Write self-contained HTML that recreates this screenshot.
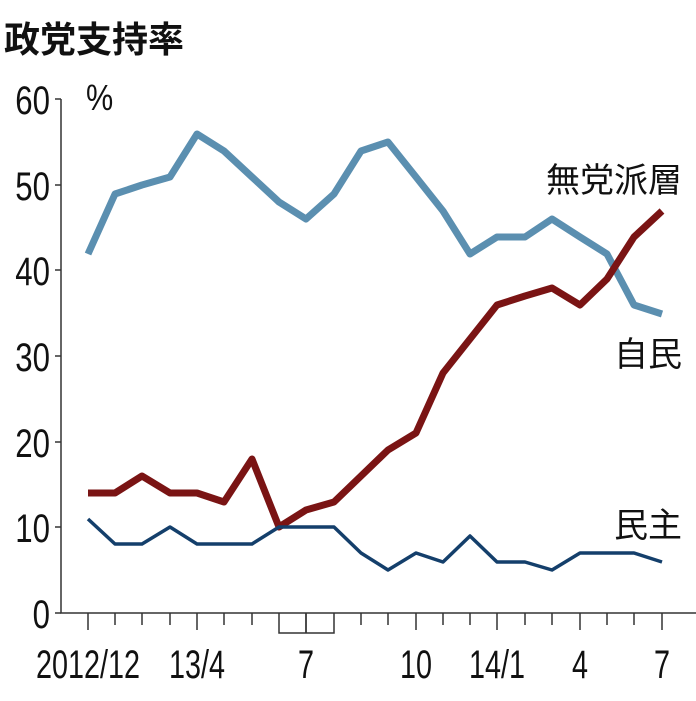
<!DOCTYPE html>
<html><head><meta charset="utf-8"><style>
body{margin:0;background:#fff;}
svg text{font-family:"Liberation Sans","Noto Sans CJK JP",sans-serif;fill:#111;}
</style></head><body>
<svg width="696" height="696" viewBox="0 0 696 696">
<text x="4" y="52" font-size="36" font-weight="bold">政党支持率</text>
<g font-size="40" text-anchor="end">
<text x="50" y="628" transform="scale(0.78,1)" transform-origin="50 0">0</text>
<text x="50" y="542" transform="scale(0.78,1)" transform-origin="50 0">10</text>
<text x="50" y="457" transform="scale(0.78,1)" transform-origin="50 0">20</text>
<text x="50" y="371" transform="scale(0.78,1)" transform-origin="50 0">30</text>
<text x="50" y="285" transform="scale(0.78,1)" transform-origin="50 0">40</text>
<text x="50" y="200" transform="scale(0.78,1)" transform-origin="50 0">50</text>
<text x="50" y="114" transform="scale(0.78,1)" transform-origin="50 0">60</text>
</g>
<text x="86" y="110" font-size="36" transform="scale(0.85,1)" transform-origin="86 0">%</text>
<g stroke="#333" stroke-width="1.5" fill="none">
<path d="M61 99V613H696"/>
<path d="M55 613H61M55 527H61M55 442H61M55 356H61M55 270H61M55 185H61M55 99H61"/>
<path d="M88 613v17M115 613v12M142 613v12M170 613v12M197 613v17M224 613v12M252 613v12M306 613v20M361 613v12M388 613v12M416 613v17M443 613v12M470 613v12M497 613v17M525 613v12M552 613v12M580 613v17M607 613v12M634 613v12M662 613v17"/>
<path d="M279 613V633H334V613M306 613V633"/>
</g>
<g font-size="40" text-anchor="middle">
<text x="88" y="678" transform="scale(0.72,1)" transform-origin="88 0">2012/12</text>
<text x="197" y="678" transform="scale(0.72,1)" transform-origin="197 0">13/4</text>
<text x="306" y="678" transform="scale(0.72,1)" transform-origin="306 0">7</text>
<text x="416" y="678" transform="scale(0.72,1)" transform-origin="416 0">10</text>
<text x="497" y="678" transform="scale(0.72,1)" transform-origin="497 0">14/1</text>
<text x="580" y="678" transform="scale(0.72,1)" transform-origin="580 0">4</text>
<text x="662" y="678" transform="scale(0.72,1)" transform-origin="662 0">7</text>
</g>
<g fill="none" stroke-linejoin="round">
<polyline stroke="#5b8fb0" stroke-width="7" points="88,254 115,194 142,185 170,177 197,134 224,151 252,177 279,202 306,219 334,194 361,151 388,142 416,177 443,211 470,254 497,237 525,237 552,219 580,237 607,254 634,305 662,314"/>
<polyline stroke="#7a1414" stroke-width="7" points="88,493 115,493 142,476 170,493 197,493 224,502 252,459 279,527 306,510 334,502 361,476 388,450 416,433 443,373 470,339 497,305 525,296 552,288 580,305 607,279 634,237 662,211"/>
<polyline stroke="#143f6b" stroke-width="3.5" points="88,519 115,544 142,544 170,527 197,544 224,544 252,544 279,527 306,527 334,527 361,553 388,570 416,553 443,562 470,536 497,562 525,562 552,570 580,553 607,553 634,553 662,562"/>
</g>
<g font-size="34" text-anchor="end">
<text x="682" y="192">無党派層</text>
<text x="682" y="366">自民</text>
<text x="682" y="537">民主</text>
</g>
</svg>
</body></html>
